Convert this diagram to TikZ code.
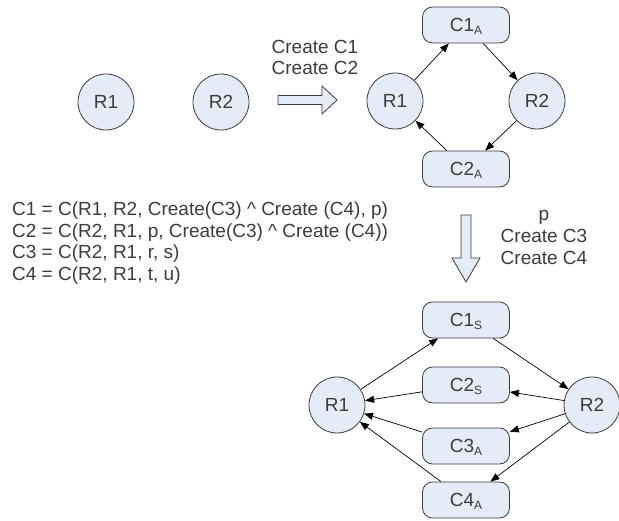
\documentclass[tikz,border=0pt]{standalone}
\usepackage{fontspec}
\setmainfont{Liberation Sans}
\usetikzlibrary{arrows.meta}
\definecolor{shapefill}{RGB}{230,236,247}
\definecolor{shapeline}{RGB}{60,60,60}
\definecolor{textgray}{RGB}{60,60,60}
\newcommand\lowidx[1]{\raisebox{-3pt}{\fontsize{12}{12}\selectfont #1}}
\begin{document}
\begin{tikzpicture}[x=1pt,y=-1pt,
    res/.style={circle,draw=shapeline,fill=shapefill,line width=0.8pt,
        minimum size=56pt,inner sep=0pt,text=textgray,
        font=\fontsize{19}{21}\selectfont,text height=13.5pt,text depth=0pt},
    conn/.style={rectangle,rounded corners=10pt,draw=shapeline,fill=shapefill,
        line width=0.8pt,minimum width=87pt,minimum height=36pt,inner sep=0pt,
        text=textgray,font=\fontsize{19}{21}\selectfont,text height=13.5pt,text depth=0pt},
    lbl/.style={text=textgray,font=\fontsize{19}{21}\selectfont,inner sep=0pt},
    link/.style={-{Triangle[length=9pt,width=7pt]},line width=0.7pt},
    hollow/.style={draw=shapeline,fill=shapefill,line width=0.8pt,line join=miter}]
\useasboundingbox (0,0) rectangle (619,521);

% two resources, nothing created yet
\node[res] (ra1) at (106,102) {R1};
\node[res] (ra2) at (221,102) {R2};

% step: create C1 and C2
\draw[hollow] (278,95.5) -- (322,95.5) -- (322,86) -- (337,100) -- (322,114) -- (322,104.5) -- (278,104.5) -- cycle;
\node[lbl,anchor=base] (createA) at (315,54) {Create C1};
\node[lbl,anchor=base] (createB) at (315,75) {Create C2};

% after the first step
\node[res]  (rb1) at (395,101) {R1};
\node[res]  (rb2) at (537,101) {R2};
\node[conn] (c1a) at (466,25)  {C1\lowidx{A}};
\node[conn] (c2a) at (466,169) {C2\lowidx{A}};
\draw[link] (rb1) -- (c1a);
\draw[link] (c1a) -- (rb2);
\draw[link] (rb2) -- (c2a);
\draw[link] (c2a) -- (rb1);

% definitions
\node[lbl,anchor=base west] (defA) at (12,216)   {C1 = C(R1, R2, Create(C3) \^{} Create (C4), p)};
\node[lbl,anchor=base west] (defB) at (12,237.5) {C2 = C(R2, R1, p, Create(C3) \^{} Create (C4))};
\node[lbl,anchor=base west] (defC) at (12,259)   {C3 = C(R2, R1, r, s)};
\node[lbl,anchor=base west] (defD) at (12,280.5) {C4 = C(R2, R1, t, u)};

% step: p, create C3 and C4
\draw[hollow] (461,215) -- (471,215) -- (471,258) -- (480,258) -- (466,282) -- (452,258) -- (461,258) -- cycle;
\node[lbl,anchor=base] (stepP) at (544,221) {p};
\node[lbl,anchor=base] (createC) at (544,243) {Create C3};
\node[lbl,anchor=base] (createD) at (544,265) {Create C4};

% after the second step
\node[res]  (rc1) at (337,405) {R1};
\node[res]  (rc2) at (592,405) {R2};
\node[conn] (c1s) at (466,320) {C1\lowidx{S}};
\node[conn] (c2s) at (466,385) {C2\lowidx{S}};
\node[conn] (c3a) at (466,446) {C3\lowidx{A}};
\node[conn] (c4a) at (466,500) {C4\lowidx{A}};
\draw[link] (rc1) -- (c1s);
\draw[link] (c1s) -- (rc2);
\draw[link] (rc2) -- (c2s);
\draw[link] (c2s) -- (rc1);
\draw[link] (rc2) -- (c3a);
\draw[link] (c3a) -- (rc1);
\draw[link] (rc2) -- (c4a);
\draw[link] (c4a) -- (rc1);
\end{tikzpicture}
\end{document}
